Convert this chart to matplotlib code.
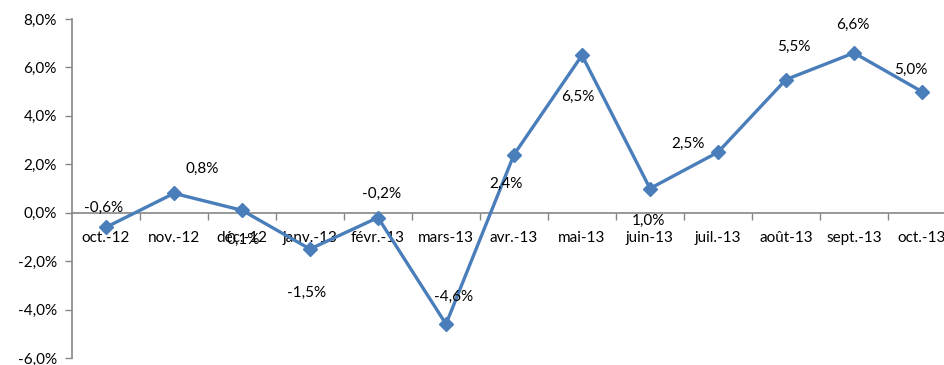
import matplotlib
matplotlib.use("Agg")
import matplotlib.pyplot as plt
from matplotlib.ticker import FixedLocator, FuncFormatter

months = ["oct.-12", "nov.-12", "déc.-12", "janv.-13", "févr.-13", "mars-13", "avr.-13",
          "mai-13", "juin-13", "juil.-13", "août-13", "sept.-13", "oct.-13"]
values = [-0.6, 0.8, 0.1, -1.5, -0.2, -4.6, 2.4, 6.5, 1.0, 2.5, 5.5, 6.6, 5.0]
# label offsets in pixels (dx, dy) from each marker
label_offsets = [(-2, 19), (28, 24), (1, -30), (-3, -44), (4, 24), (8, 27), (-8, -29),
                 (-4, -42), (-2, -32), (-30, 8), (8, 33), (-1, 28), (-11, 22)]

plt.rcParams['font.family'] = ['Lato', 'DejaVu Sans']
blue = '#4A7EBB'
grey = '#868686'

fig = plt.figure(figsize=(9.44, 3.65), dpi=100)
ax = fig.add_axes([72 / 944, 7 / 365, 1 - 72 / 944, 339 / 365])

x = list(range(len(months)))
ax.plot(x, values, color=blue, linewidth=2.4, marker='D', markersize=7,
        markerfacecolor=blue, markeredgecolor=blue, clip_on=False, zorder=3)

for xi, v, (dx, dy) in zip(x, values, label_offsets):
    ax.annotate(f"{v:.1f}%".replace('.', ','), (xi, v), xytext=(dx, dy),
                textcoords='offset pixels', ha='center', va='center',
                fontsize=11, color='black')

ax.set_ylim(-6, 8)
ax.set_xlim(-0.5, -0.5 + (944 - 72) / 68)
ax.set_yticks([-6, -4, -2, 0, 2, 4, 6, 8])
ax.yaxis.set_major_formatter(FuncFormatter(lambda v, p: f"{v:.1f}%".replace('.', ',')))

ax.set_xticks(x)
ax.set_xticklabels(months)
ax.xaxis.set_minor_locator(FixedLocator([i + 0.5 for i in x]))
ax.tick_params(axis='x', which='major', length=0, pad=13, labelsize=11)
ax.tick_params(axis='x', which='minor', length=5, width=1, color=grey, direction='out')
ax.tick_params(axis='y', length=5, width=1, color=grey, direction='out', pad=6, labelsize=11)

ax.spines['bottom'].set_position(('data', 0))
ax.spines['bottom'].set_color(grey)
ax.spines['left'].set_color(grey)
ax.spines['bottom'].set_linewidth(1.2)
ax.spines['left'].set_linewidth(1.2)
ax.spines['top'].set_visible(False)
ax.spines['right'].set_visible(False)

fig.savefig("out.png", dpi=100)
